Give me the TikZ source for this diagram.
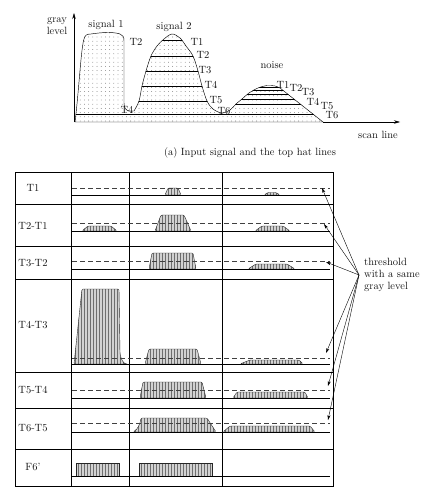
\documentclass[tikz,border=0pt]{standalone}
\usepackage{tikz}
\usetikzlibrary{arrows.meta,patterns}
\definecolor{inkBlack}{RGB}{20, 20, 20}
\definecolor{inkDot}{RGB}{90, 90, 90}
\definecolor{inkHatch}{RGB}{110, 110, 110}

% outline of the input signal (signal 1, signal 2, noise)
\newcommand{\signaloutline}{(75,122) .. controls (79,90) and (81,48) .. (84,39)
  .. controls (85,35) and (87,34) .. (91,34) .. controls (104,32) and (114,32) .. (120,34)
  .. controls (123,35) and (124,37) .. (124,41) -- (124,103)
  .. controls (124,108) and (126,111) .. (130,111) -- (134,111)
  -- plot[smooth, tension=0.55] coordinates {(134,111) (139,101) (142,86) (146,71) (151,56)
     (157,46) (164,39) (172,34) (180,38) (186,46) (193,56) (198,71) (202,86) (207,101)
     (213,109) (222,113) (230,110) (236,104) (242,99) (249,93) (258,88) (267,85.5) (275,86) (280,88)}
  -- (323,122) -- cycle}

\begin{document}
\begin{tikzpicture}[x=1pt,y=-1pt,
    lbl/.style={font=\fontsize{10.5}{12}\selectfont, text=inkBlack, inner sep=0pt},
    axis/.style={line width=0.5pt, -{Stealth[length=6pt,width=3.5pt]}},
    grid/.style={line width=0.8pt},
    thr/.style={line width=0.35pt},
    thrdash/.style={line width=0.45pt, dash pattern=on 5pt off 3pt, black!75},
    cut/.style={draw=black!85, line width=0.4pt, rounded corners=1.2pt,
      preaction={fill=gray!35}, pattern=vertical lines, pattern color=inkHatch},
    pointer/.style={line width=0.4pt, -{Stealth[length=5pt,width=3pt]}}]

\useasboundingbox (0,0) rectangle (438,489);

% (a) input signal
\begin{scope}
  \clip \signaloutline;
  \foreach \i in {0,...,59} {
    \foreach \j in {0,...,21} {
      \fill[inkDot] ({76+4.2*\i},{121-4.2*\j}) circle (0.4pt);
    }
  }
  \foreach \y in {40,56,71,86,101} \draw[thr] (132,\y) -- (221,\y);
  \foreach \y in {87,90.5,94.5,99,104} \draw[thr] (224,\y) -- (330,\y);
  \draw[thr] (70,114) -- (330,114);
\end{scope}
\draw[line width=0.45pt] \signaloutline;

\coordinate (org) at (74,122);
\coordinate (ytip) at (74,13);
\coordinate (xstart) at (323,122);
\coordinate (xtip) at (400,122);
\draw[axis] (org) -- (ytip);
\draw[axis] (xstart) -- (xtip);

\node[lbl, align=center] (graylevel) at (57,26) {gray\\level};
\node[lbl] (scanline) at (378,135) {scan line};
\node[lbl] (sig1) at (106,25) {signal 1};
\node[lbl] (sig2) at (174,27) {signal 2};
\node[lbl] (noise) at (272,65) {noise};
\node[lbl] (s1top) at (136,42) {T2};
\node[lbl] (s1bot) at (127,110) {T4};
\foreach \t/\x/\y in {1/197/42, 2/203/55, 3/205/70, 4/211/85, 5/216/100, 6/224/111}
  \node[lbl] (s2t\t) at (\x,\y) {T\t};
\foreach \t/\x/\y in {1/283/85, 2/296/88, 3/308/92, 4/313/102, 5/327/106, 6/332/115}
  \node[lbl] (nst\t) at (\x,\y) {T\t};
\node[lbl] (capa) at (250,153) {(a) Input signal and the top hat lines};

% table of the top hat slices
\draw[grid] (15,172) rectangle (333,486);
\foreach \y in {204,246,279,372,408,449} \draw[grid] (15,\y) -- (333,\y);
\foreach \x in {71,129,222} \draw[grid] (\x,172) -- (\x,486);

% row 1: T1
\draw[cut] (165,195) -- (168,188) -- (178,188) -- (181,195) -- cycle;
\draw[cut] (264,195) -- (268,192.5) -- (276,192.5) -- (280,195) -- cycle;
% row 2: T2-T1
\draw[cut] (82,231) -- (88,226) -- (111,226) -- (117,231) -- cycle;
\draw[cut] (155,231) -- (161,215) -- (184,215) -- (191,231) -- cycle;
\draw[cut] (255,231) -- (262,226) -- (283,226) -- (290,231) -- cycle;
% row 3: T3-T2
\draw[cut] (149,269) -- (152,253) -- (193,253) -- (196,269) -- cycle;
\draw[cut] (248,269) -- (256,264) -- (287,264) -- (295,269) -- cycle;
% row 4: T4-T3
\draw[cut] (74,364) -- (82,289) -- (119,289) -- (120,353)
  .. controls (121,360) and (124,364) .. (128,364) -- cycle;
\draw[cut] (145,364) -- (149,349) -- (197,349) -- (201,364) -- cycle;
\draw[cut] (240,364) -- (250,360) -- (299,360) -- (303,364) -- cycle;
% row 5: T5-T4
\draw[cut] (140,398) -- (143,382) -- (202,382) -- (206,398) -- cycle;
\draw[cut] (233,398) -- (237,392) -- (305,392) -- (308,398) -- cycle;
% row 6: T6-T5
\draw[cut] (133,432) .. controls (138,429) and (140,424) .. (141,418)
  -- (207,418) -- (216,432) -- cycle;
\draw[cut] (223,432) -- (230,426) -- (310,426) -- (315,432) -- cycle;
% row 7: F6'
\draw[cut, rounded corners=0pt] (76,476) -- (76,463) -- (119,463) -- (119,476) -- cycle;
\draw[cut, rounded corners=0pt] (139,476) -- (139,463) -- (212,463) -- (212,476) -- cycle;
\draw[thr] (72,476) -- (330,476);

\foreach \d/\s in {188/195, 223/231, 261/269, 358/364, 390/398, 423/432} {
  \draw[thrdash] (72,\d) -- (330,\d);
  \draw[thr] (72,\s) -- (330,\s);
}

\foreach \n/\txt/\y in {1/T1/188, 2/T2-T1/226, 3/T3-T2/263, 4/T4-T3/325, 5/T5-T4/390, 6/T6-T5/428, 7/F6'/467}
  \node[lbl] (row\n) at (33,\y) {\txt};

% threshold pointers
\coordinate (hub) at (359,275);
\node[lbl, anchor=west, align=left] (thrtext) at (364,275) {threshold\\with a same\\gray level};
\foreach \n/\x/\y in {1/322/188, 2/324/224, 3/326/262, 4/326/353, 5/328/386, 6/328/420} {
  \coordinate (tip\n) at (\x,\y);
  \draw[pointer] (hub) -- (tip\n);
}
\end{tikzpicture}
\end{document}
